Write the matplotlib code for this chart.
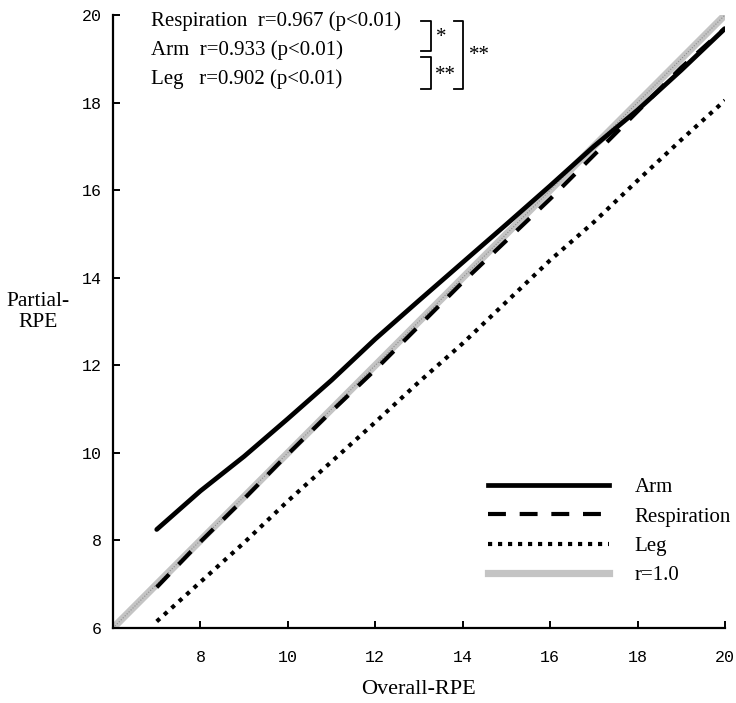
import matplotlib
matplotlib.use("Agg")
import matplotlib.pyplot as plt
from matplotlib.lines import Line2D

# ---- data ----
overall = [7, 8, 9, 10, 11, 12, 13, 14, 15, 16, 17, 18, 19, 20]
arm = [8.25, 9.13, 9.92, 10.78, 11.66, 12.6, 13.48, 14.35, 15.22, 16.1, 17.0, 17.83, 18.74, 19.69]
respiration = [6.93, 7.97, 8.95, 9.97, 10.95, 11.9, 12.9, 13.9, 14.85, 15.8, 16.8, 17.8, 18.8, 19.7]
leg = [6.15, 7.05, 7.95, 8.9, 9.8, 10.7, 11.62, 12.5, 13.45, 14.4, 15.27, 16.22, 17.15, 18.05]
identity = [6, 20]
xticks = [8, 10, 12, 14, 16, 18, 20]
yticks = [6, 8, 10, 12, 14, 16, 18, 20]
stat_lines = ["Respiration  r=0.967 (p<0.01)",
              "Arm  r=0.933 (p<0.01)",
              "Leg   r=0.902 (p<0.01)"]

W, H = 736, 703
fig = plt.figure(figsize=(W / 100, H / 100), dpi=100)
ax = fig.add_axes([113 / W, 1 - 628 / H, (725 - 113) / W, (628 - 15) / H])

serif = "Liberation Serif"
mono = "Liberation Mono"

ax.plot(identity, identity, color="#c4c4c4", lw=5.2, solid_capstyle="butt", zorder=1)
ax.plot(identity, identity, color="#8c8c8c", lw=0.8, dashes=(1, 1.5), zorder=1.5)
ax.plot(overall, arm, color="black", lw=3.4, solid_capstyle="round", zorder=3)
ax.plot(overall, respiration, color="black", lw=3.0, dashes=(4.3, 3.3), zorder=3)
ax.plot(overall, leg, color="black", lw=3.0, dashes=(1.0, 1.4), zorder=3)

ax.set_xlim(6, 20)
ax.set_ylim(6, 20)
ax.set_xticks(xticks)
ax.set_yticks(yticks)
for s in ["top", "right"]:
    ax.spines[s].set_visible(False)
for s in ["left", "bottom"]:
    ax.spines[s].set_linewidth(1.6)
ax.tick_params(axis="both", direction="in", length=5, width=1.4)
ax.tick_params(axis="x", pad=16)
ax.tick_params(axis="y", pad=8)
for lab in ax.get_xticklabels() + ax.get_yticklabels():
    lab.set_fontfamily(mono)
    lab.set_fontsize(12)

ax.set_xlabel("Overall-RPE", fontfamily=serif, fontsize=16, va="center")
ax.xaxis.set_label_coords(0.5, (628 - 690) / 613)
fig.text(38 / W, 1 - 312 / H, "Partial-\nRPE", fontfamily=serif, fontsize=15.5,
         ha="center", va="center", linespacing=1.15)

# legend
handles = [
    Line2D([], [], color="black", lw=3.4),
    Line2D([], [], color="black", lw=3.0, dashes=(4.3, 3.3)),
    Line2D([], [], color="black", lw=3.0, dashes=(1.0, 1.4)),
    Line2D([], [], color="#c4c4c4", lw=5.2),
]
leg_obj = ax.legend(handles, ["Arm", "Respiration", "Leg", "r=1.0"], frameon=False,
                    prop={"family": serif, "size": 15}, handlelength=5.8,
                    handletextpad=1.25, labelspacing=0.47,
                    loc="upper left", bbox_to_anchor=(0.582, 0.276))

# statistics text
ys = [21, 50, 79]
for t, yp in zip(stat_lines, ys):
    fig.text(151 / W, 1 - yp / H, t, fontfamily=serif, fontsize=15, va="center", ha="left")

def fx(p):
    return p / W

def fy(p):
    return 1 - p / H

def bracket(x_left, x_right, y_top, y_bot):
    fig.add_artist(Line2D([fx(x_left), fx(x_right), fx(x_right), fx(x_left)],
                          [fy(y_top), fy(y_top), fy(y_bot), fy(y_bot)],
                          color="black", lw=1.3))

bracket(421, 431, 21, 51)
bracket(421, 431, 57, 89)
bracket(454, 463, 21, 89)
fig.text(fx(441), fy(38), "*", fontfamily=serif, fontsize=15, ha="center", va="center")
fig.text(fx(445), fy(75), "**", fontfamily=serif, fontsize=15, ha="center", va="center")
fig.text(fx(479), fy(56), "**", fontfamily=serif, fontsize=15, ha="center", va="center")

fig.savefig("out.png", dpi=100, facecolor="white")
